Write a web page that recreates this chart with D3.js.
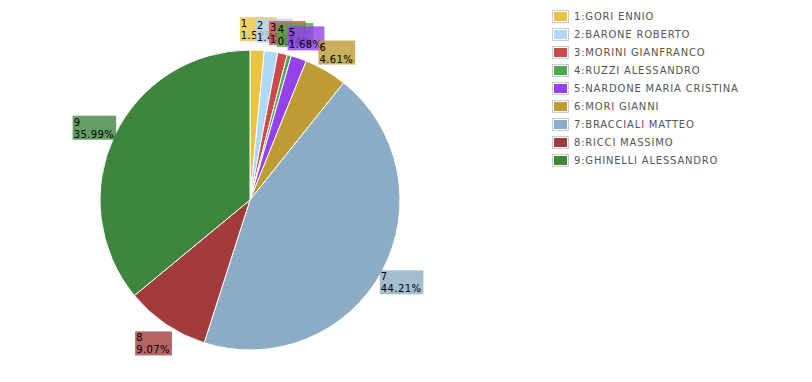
<!DOCTYPE html>
<html>
<head>
<meta charset="utf-8">
<script src="https://cdn.jsdelivr.net/npm/d3@7"></script>
<style>
  body { margin: 0; background: #fff; }
  svg { display: block; }
  text { font-family: "DejaVu Sans", Verdana, sans-serif; }
</style>
</head>
<body>
<svg width="812" height="382"></svg>
<script>
// data
const ids = ["1", "2", "3", "4", "5", "6", "7", "8", "9"];
const names = ["GORI ENNIO", "BARONE ROBERTO", "MORINI GIANFRANCO", "RUZZI ALESSANDRO",
    "NARDONE MARIA CRISTINA", "MORI GIANNI", "BRACCIALI MATTEO", "RICCI MASSIMO", "GHINELLI ALESSANDRO"];
const percents = [1.52, 1.45, 1.03, 0.44, 1.68, 4.61, 44.21, 9.07, 35.99];
const colors = ["#edc240", "#afd8f8", "#cb4b4b", "#4da74d", "#9440ed",
    "#be9b33", "#8cacc6", "#a23c3c", "#3e863e"];

const data = ids.map((id, i) => ({id: id, name: names[i], value: percents[i], color: colors[i]}));

var svg = d3.select("svg");
svg.append('rect').attr('width', 812).attr('height', 382).attr('fill', '#fff');

const cx = 250, cy = 200, radius = 150, labelRadius = 172;

const pie = d3.pie().sort(null).value(d => d.value);
const arcs = pie(data);

const arc = d3.arc().innerRadius(0).outerRadius(radius);
const labelArc = d3.arc().innerRadius(labelRadius).outerRadius(labelRadius);

var g1 = svg.append('g')
    .attr('transform', `translate(${cx},${cy})`);

g1.selectAll('path.slice').data(arcs)
    .enter().append('path')
    .attr('class', 'slice')
    .attr('d', arc)
    .attr('fill', d => d.data.color)
    .attr('stroke', '#fff')
    .attr('stroke-width', 1);

// labels: semi transparent box + two lines, centred on the label radius
arcs.forEach(d => {
    const [lx, ly] = labelArc.centroid(d);
    const lg = g1.append('g');
    const bg = lg.append('rect');
    const t = lg.append('text')
        .attr('font-size', 10)
        .attr('letter-spacing', 0.4)
        .attr('fill', '#000');
    t.append('tspan').attr('x', 0).attr('y', 0).text(d.data.id);
    t.append('tspan').attr('x', 0).attr('dy', 12).text(d3.format('.2f')(d.data.value) + '%');
    const bb = t.node().getBBox();
    const w = bb.width + 3, h = 24;
    const x0 = lx - w / 2, y0 = ly - h / 2 + 1;
    bg.attr('x', x0).attr('y', y0).attr('width', w).attr('height', h)
        .attr('fill', d.data.color).attr('opacity', 0.8);
    t.attr('transform', `translate(${x0 + 1},${y0 + 10})`);
});

// legend
const legend = svg.append('g').attr('transform', 'translate(552,10)');
const rows = legend.selectAll('g').data(data).enter().append('g')
    .attr('transform', (d, i) => `translate(0,${i * 18})`);
rows.append('rect')
    .attr('x', 0.5).attr('y', 0.5).attr('width', 16).attr('height', 12)
    .attr('fill', '#fff').attr('stroke', '#ccc');
rows.append('rect')
    .attr('x', 2).attr('y', 2).attr('width', 13).attr('height', 9)
    .attr('fill', d => d.color);
rows.append('text')
    .attr('x', 22).attr('y', 10)
    .attr('font-size', 10)
    .attr('letter-spacing', 0.8)
    .attr('fill', '#545454')
    .text(d => d.id + ':' + d.name);
</script>
</body>
</html>
